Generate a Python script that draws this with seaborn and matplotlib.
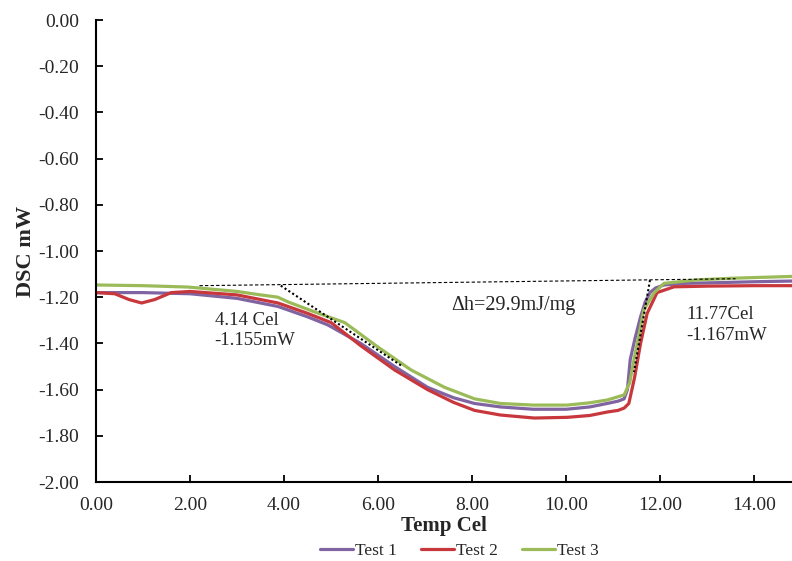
import numpy as np
import pandas as pd
import seaborn as sns
import matplotlib.pyplot as plt

# values (Temp Cel, DSC mW)
t1_temp = [0, 1.0, 2.0, 3.0, 3.87, 4.5, 4.93, 5.63, 6.35, 7.05, 7.6, 8.05, 8.6, 9.3, 10.0,
           10.5, 10.87, 11.1, 11.23, 11.3, 11.36, 11.46, 11.58, 11.68, 11.78, 11.9, 12.08,
           12.5, 13.0, 14.0, 14.8]
t1_dsc = [-1.18, -1.18, -1.185, -1.205, -1.24, -1.285, -1.32, -1.40, -1.50, -1.59, -1.635,
          -1.66, -1.675, -1.685, -1.685, -1.675, -1.66, -1.65, -1.64, -1.60, -1.47, -1.38,
          -1.285, -1.22, -1.18, -1.16, -1.147, -1.14, -1.138, -1.133, -1.13]

t2_temp = [0, 0.4, 0.7, 0.97, 1.25, 1.6, 2.0, 3.0, 3.87, 4.5, 5.0, 5.63, 6.35, 7.05, 7.6,
           8.05, 8.6, 9.32, 10.02, 10.5, 10.87, 11.1, 11.23, 11.33, 11.45, 11.58, 11.72,
           11.93, 12.29, 13.0, 14.0, 14.8]
t2_dsc = [-1.18, -1.185, -1.21, -1.225, -1.21, -1.18, -1.175, -1.19, -1.225, -1.27, -1.31,
          -1.41, -1.515, -1.60, -1.655, -1.69, -1.71, -1.723, -1.72, -1.712, -1.697, -1.69,
          -1.68, -1.66, -1.55, -1.40, -1.27, -1.18, -1.155, -1.152, -1.15, -1.15]

t3_temp = [0, 1.0, 1.96, 3.0, 3.5, 3.87, 4.08, 4.6, 5.29, 5.99, 6.70, 7.41, 8.05, 8.6, 9.3,
           10.02, 10.5, 10.87, 11.23, 11.35, 11.44, 11.55, 11.65, 11.87, 12.08, 12.78, 13.5,
           14.8]
t3_dsc = [-1.147, -1.15, -1.156, -1.175, -1.19, -1.20, -1.22, -1.26, -1.31, -1.415, -1.515,
          -1.59, -1.64, -1.66, -1.667, -1.667, -1.657, -1.645, -1.623, -1.57, -1.47, -1.36,
          -1.255, -1.18, -1.14, -1.125, -1.118, -1.11]

# baseline and onset tangents
base_x = [2.2, 13.6]
base_y = [-1.15, -1.12]
tan1_x = [3.93, 6.52]
tan1_y = [-1.15, -1.50]
tan2_x = [11.78, 11.44]
tan2_y = [-1.126, -1.524]

x_ticks = [0, 2, 4, 6, 8, 10, 12, 14]
y_ticks = [0.0, -0.2, -0.4, -0.6, -0.8, -1.0, -1.2, -1.4, -1.6, -1.8, -2.0]
x_labels = ["0.00", "2.00", "4.00", "6.00", "8.00", "10.00", "12.00", "14.00"]
y_labels = ["0.00", "-0.20", "-0.40", "-0.60", "-0.80", "-1.00", "-1.20", "-1.40",
            "-1.60", "-1.80", "-2.00"]

df = pd.concat([
    pd.DataFrame({"temp": t1_temp, "dsc": t1_dsc, "test": "Test 1"}),
    pd.DataFrame({"temp": t2_temp, "dsc": t2_dsc, "test": "Test 2"}),
    pd.DataFrame({"temp": t3_temp, "dsc": t3_dsc, "test": "Test 3"}),
])

sns.set_style("white")
plt.rcParams["font.family"] = ["Liberation Serif", "DejaVu Serif"]

fig = plt.figure(figsize=(7.92, 5.61), dpi=100)
ax = fig.add_axes([0.1212, 0.1408, 0.8788, 0.8235])

palette = {"Test 1": "#8064A2", "Test 2": "#C8373C", "Test 3": "#9BBB59"}
sns.lineplot(data=df, x="temp", y="dsc", hue="test", palette=palette, sort=False,
             linewidth=2.3, ax=ax, legend=True)

ax.plot(base_x, base_y, color="black", ls=(0, (3, 2)), lw=0.8)
ax.plot(tan1_x, tan1_y, color="black", ls=(0, (1, 1.2)), lw=1.5)
ax.plot(tan2_x, tan2_y, color="black", ls=(0, (1, 1.2)), lw=1.5)

ax.text(2.52, -1.262, "4.14 Cel\n-1.155mW", fontsize=13.5, va="top", ha="left", linespacing=1.3)
ax.text(7.55, -1.234, "\u0394h=29.9mJ/mg", fontsize=14.5, va="center", ha="left")
ax.text(12.55, -1.24, "11.77Cel\n-1.167mW", fontsize=13.5, va="top", ha="left", linespacing=1.3)

ax.set_xlim(0, 14.8)
ax.set_ylim(-2.0, 0.0)
ax.set_xticks(x_ticks, x_labels)
ax.set_yticks(y_ticks, y_labels)
ax.tick_params(direction="in", length=5, width=1.3, labelsize=14, color="black",
               bottom=True, left=True)
ax.tick_params(axis="y", pad=12)
ax.tick_params(axis="x", pad=11)

for s in ["top", "right"]:
    ax.spines[s].set_visible(False)
for s in ["left", "bottom"]:
    ax.spines[s].set_color("black")
    ax.spines[s].set_linewidth(1.5)

ax.set_xlabel("Temp Cel", fontsize=15, fontweight="bold", labelpad=1)
ax.set_ylabel("DSC mW", fontsize=16, fontweight="bold", labelpad=2)

handles, labels = ax.get_legend_handles_labels()
ax.get_legend().remove()
fig.legend(handles, labels, loc="lower center", bbox_to_anchor=(0.58, -0.024), ncol=3,
           frameon=False, fontsize=12.5, handlelength=1.9, handletextpad=0.1,
           columnspacing=1.4)

fig.savefig("out.png", dpi=100)
